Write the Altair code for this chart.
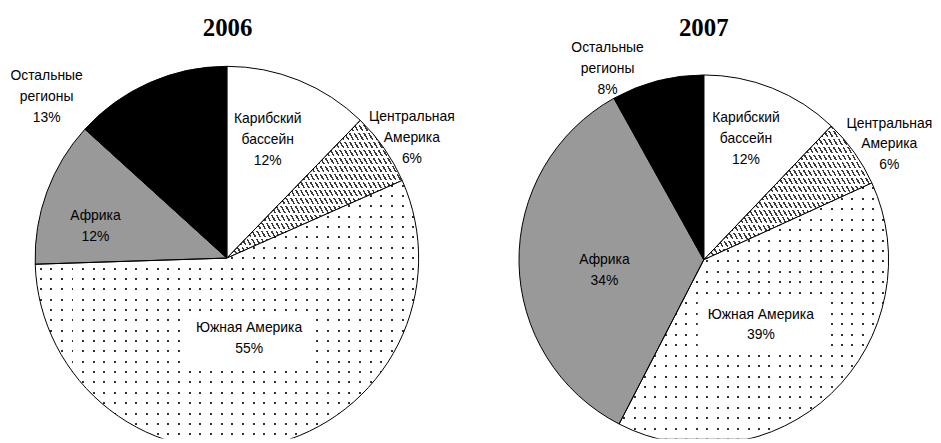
import math
import altair as alt
import pandas as pd

# ---------------- data ----------------
YEARS = ["2006", "2007"]
REGIONS = ["Карибский\nбассейн", "Центральная\nАмерика", "Южная Америка", "Африка", "Остальные\nрегионы"]
SHARE_2006 = [12, 6, 55, 12, 13]
SHARE_2007 = [12, 6, 39, 34, 8]

# ---------------- layout / style ----------------
PANEL_H = 432
LINE_H = 21
LAYOUT = [
    dict(width=460, cx=220.3, cy=250.3, r=193, tx=221, ty=18.7,
         lr=[125.5, 221.8, 84.4, 136.1, 243.1], aoff=[-2.9, 2.0, -2.5, -6.6, -24.4]),
    dict(width=465, cx=240.3, cy=252.0, r=186, tx=240.3, ty=18.3,
         lr=[129.0, 219.8, 87.3, 100.5, 215.2], aoff=[-2.6, 3.6, 2.5, -5.1, -12.2]),
]
# white label boxes (only on the dotted slice)
BOX_W = [0, 0, 127, 0, 0]
BOX_H = [0, 0, 53, 0, 0]
GRAY = "#999999"
DOT = "#333333"
HATCH = "#3a3a3a"
CLEAR = "rgba(255,255,255,0)"


def slice_bbox(vals, k, r):
    tot = float(sum(vals))
    a0 = sum(vals[:k]) / tot * 2 * math.pi
    a1 = a0 + vals[k] / tot * 2 * math.pi
    pts = [(0.0, 0.0), (r * math.sin(a0), -r * math.cos(a0)), (r * math.sin(a1), -r * math.cos(a1))]
    for q in [0, math.pi / 2, math.pi, 1.5 * math.pi, 2 * math.pi]:
        if a0 < q < a1:
            pts.append((r * math.sin(q), -r * math.cos(q)))
    xs = [p[0] for p in pts]
    ys = [p[1] for p in pts]
    return max(xs) - min(xs), max(ys) - min(ys)


def bands(n, frac, on, off, x1, y1, x2, y2):
    stops = [{"offset": 0, "color": off}]
    half = frac / (2.0 * n)
    for i in range(n):
        c = (i + 0.5) / n
        a, b = round(max(c - half, 0), 5), round(min(c + half, 1), 5)
        stops += [{"offset": a, "color": off}, {"offset": a, "color": on},
                  {"offset": b, "color": on}, {"offset": b, "color": off}]
    stops.append({"offset": 1, "color": off})
    return {"gradient": "linear", "x1": x1, "y1": y1, "x2": x2, "y2": y2, "stops": stops}


def dot_layers(vals, r, spacing=10.6, size=2.0):
    w, h = slice_bbox(vals, 2, r)
    nr = max(1, round(h / spacing))
    nc = max(1, round(w / spacing))
    rows = bands(nr, size / (h / nr), DOT, "white", 0, 0, 0, 1)
    cols = bands(nc, size / (w / nc), CLEAR, "white", 0, 0, 1, 0)
    return rows, cols


def hatch_layers(vals, r, theta_deg=60.0, period=4.2, line=1.5, row=8.0, gap=2.0):
    w, h = slice_bbox(vals, 1, r)
    t = math.radians(theta_deg)
    s, c = math.sin(t), math.cos(t)
    dx, dy = s / h, -c / w
    k = (s / h + c / w) / (dx * dx + dy * dy)
    extent = w * s + h * c
    n = max(1, round(extent / period))
    stripes = bands(n, line / (extent / n), HATCH, "white", 0, 1, k * dx, 1 + k * dy)
    nr = max(1, round(h / row))
    mask = bands(nr, gap / (h / nr), "white", CLEAR, 0, 0, 0, 1)
    return stripes, mask


def label_pos(ch, lay):
    return ch.transform_joinaggregate(
        total="sum(value)"
    ).transform_window(
        cum="sum(value)", sort=[alt.SortField("idx", order="ascending")]
    ).transform_calculate(
        mid="(datum.cum - datum.value/2)/datum.total*2*PI + datum.aoff*PI/180",
        label="datum.name + '\\n' + datum.value + '%'",
    ).transform_calculate(
        lx=f"{lay['cx']} + datum.lr*sin(datum.mid)",
        lyc=f"{lay['cy']} - datum.lr*cos(datum.mid)",
        nl="length(split(datum.label, '\\n'))",
    ).transform_calculate(
        ly=f"datum.lyc - (datum.nl - 1)/2*{LINE_H}",
    )


def pie_panel(year, vals, lay):
    df = pd.DataFrame({
        "idx": list(range(len(REGIONS))),
        "name": REGIONS,
        "value": vals,
        "lr": lay["lr"],
        "aoff": lay["aoff"],
        "bw": BOX_W,
        "bh": BOX_H,
    })
    dots_rows, dots_mask = dot_layers(vals, lay["r"])
    hatch_fill, hatch_mask = hatch_layers(vals, lay["r"])

    enc = dict(
        theta=alt.Theta("value:Q", stack=True),
        order=alt.Order("idx:Q"),
        detail=alt.Detail("idx:N"),
        x=alt.value(lay["cx"]),
        y=alt.value(lay["cy"]),
    )

    base = alt.Chart(df).mark_arc(radius=lay["r"], clip=True, strokeWidth=0).encode(
        fill=alt.FillValue(
            value="white",
            condition=[
                {"test": "datum.idx === 1", "value": hatch_fill},
                {"test": "datum.idx === 2", "value": dots_rows},
                {"test": "datum.idx === 3", "value": GRAY},
                {"test": "datum.idx === 4", "value": "black"},
            ],
        ),
        **enc,
    )
    mask = alt.Chart(df).mark_arc(radius=lay["r"], clip=True, stroke="black", strokeWidth=1).encode(
        fill=alt.FillValue(
            value="transparent",
            condition=[
                {"test": "datum.idx === 1", "value": hatch_mask},
                {"test": "datum.idx === 2", "value": dots_mask},
            ],
        ),
        **enc,
    )
    boxes = label_pos(alt.Chart(df), lay).transform_filter(
        "datum.bw > 0"
    ).transform_calculate(
        bx1="datum.lx - datum.bw/2", bx2="datum.lx + datum.bw/2",
        by1="datum.lyc - datum.bh/2", by2="datum.lyc + datum.bh/2",
    ).mark_rect(color="white", strokeWidth=0).encode(
        x=alt.X("bx1:Q", scale=None), x2="bx2:Q",
        y=alt.Y("by1:Q", scale=None), y2="by2:Q",
    )
    labels = label_pos(alt.Chart(df), lay).mark_text(
        font="Liberation Sans", fontSize=14, lineHeight=LINE_H, lineBreak="\n",
        align="center", baseline="middle", color="black",
    ).encode(
        x=alt.X("lx:Q", scale=None),
        y=alt.Y("ly:Q", scale=None),
        text="label:N",
    )
    title = alt.Chart(pd.DataFrame({"year": [year]})).mark_text(
        font="Liberation Serif", fontSize=25, fontWeight="bold",
        align="center", baseline="middle", color="black",
    ).encode(
        x=alt.value(lay["tx"]),
        y=alt.value(lay["ty"]),
        text="year:N",
    )
    return alt.layer(base, mask, boxes, labels, title).properties(width=lay["width"], height=PANEL_H)


p1 = pie_panel(YEARS[0], SHARE_2006, LAYOUT[0])
p2 = pie_panel(YEARS[1], SHARE_2007, LAYOUT[1])

chart = alt.hconcat(p1, p2, spacing=0).properties(
    padding=0, background="white"
).configure_view(strokeWidth=0)

chart.save("out.html", embed_options={"renderer": "svg", "actions": False})
